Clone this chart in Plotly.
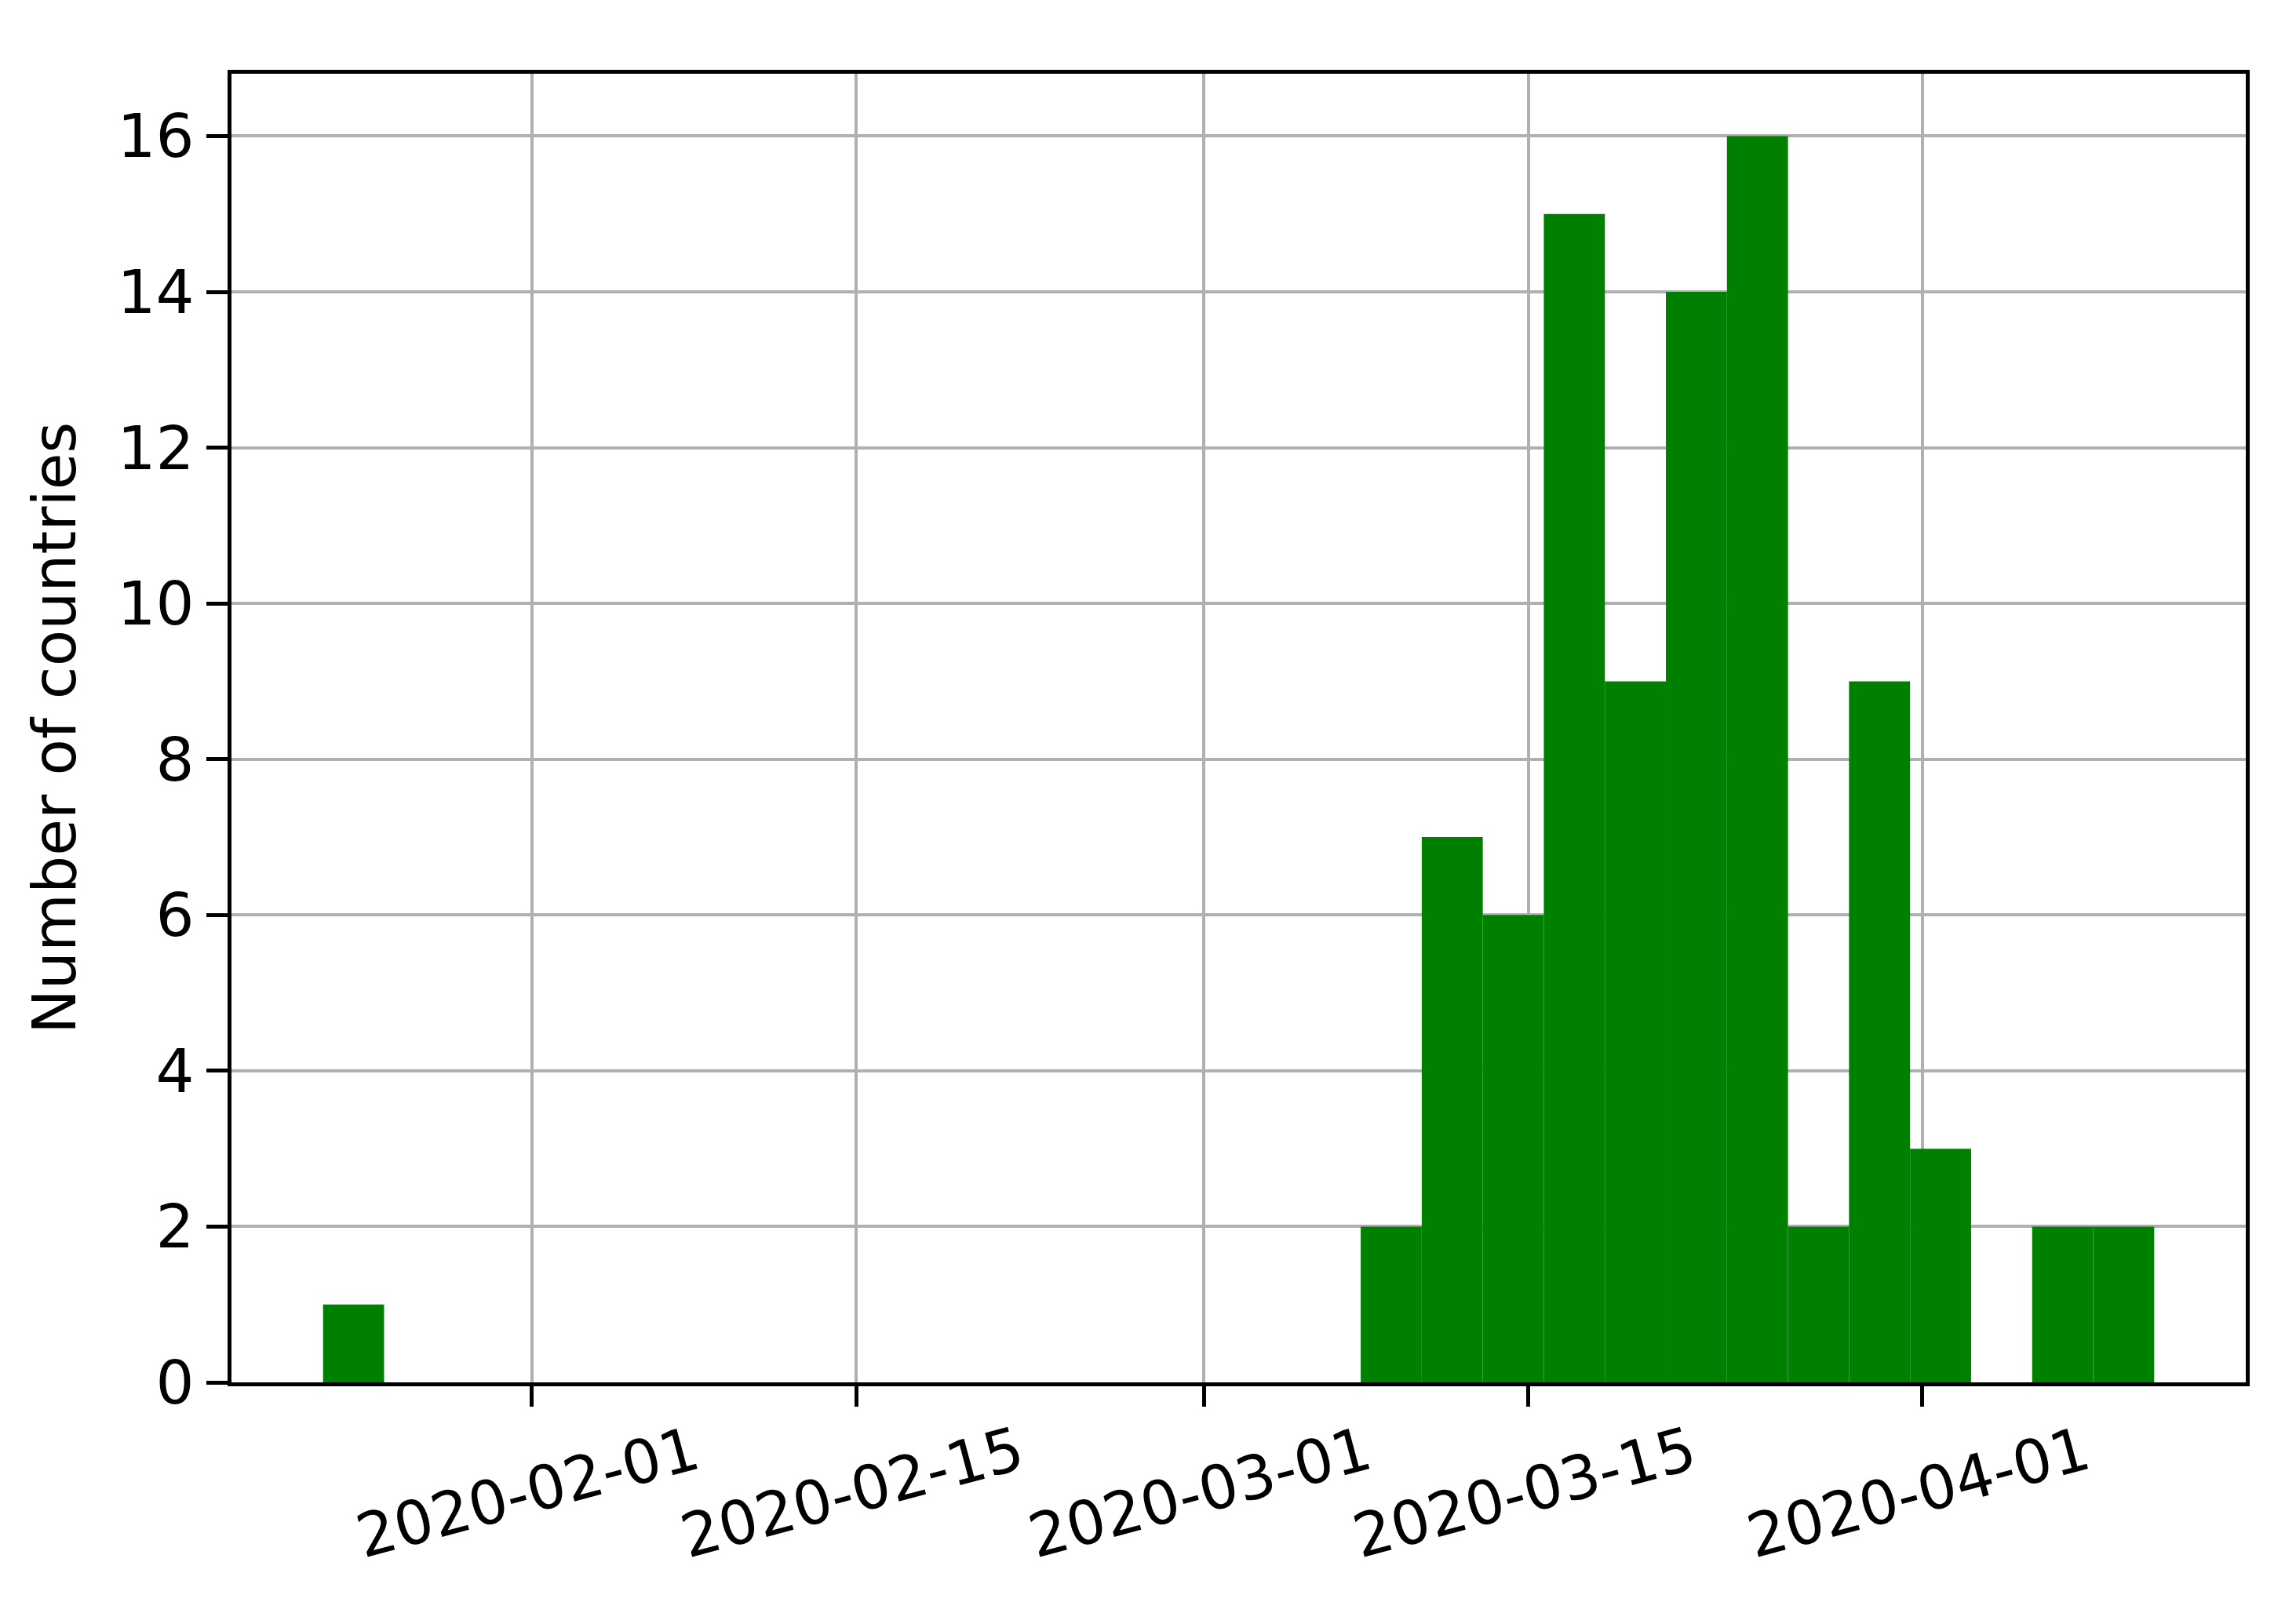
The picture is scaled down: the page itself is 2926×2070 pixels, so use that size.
import pandas as pd
import plotly.graph_objects as go

# histogram: 30 equal bins between the earliest and latest date
first_date = "2020-01-23"
last_date = "2020-04-11"
counts = [1, 0, 0, 0, 0, 0, 0, 0, 0, 0,
          0, 0, 0, 0, 0, 0, 0, 2, 7, 6,
          15, 9, 14, 16, 2, 9, 3, 0, 2, 2]
tick_dates = ["2020-02-01", "2020-02-15", "2020-03-01", "2020-03-15", "2020-04-01"]
y_ticks = [0, 2, 4, 6, 8, 10, 12, 14, 16]

start = pd.Timestamp(first_date)
end = pd.Timestamp(last_date)
edges = pd.date_range(start, end, periods=len(counts) + 1)
step = edges[1] - edges[0]
centers = edges[:-1] + step / 2
span = end - start

fig = go.Figure(
    go.Bar(
        x=centers,
        y=counts,
        width=step.total_seconds() * 1000,
        marker_color="green",
        marker_line_width=0,
    )
)

font = dict(family="DejaVu Sans", size=77, color="black")

fig.update_layout(
    width=2926,
    height=2070,
    # page body adds 8px, so shift by that
    margin=dict(l=287, r=72, t=86, b=316),
    plot_bgcolor="white",
    paper_bgcolor="white",
    showlegend=False,
    font=font,
)

fig.update_xaxes(
    type="date",
    range=[start - span * 0.05, end + span * 0.05],
    tickvals=tick_dates,
    ticktext=tick_dates,
    tickangle=-15,
    ticklabelshift=208,
    ticklabelstandoff=-14,
    ticks="outside",
    ticklen=26,
    tickwidth=5,
    tickcolor="black",
    showline=True,
    linecolor="black",
    linewidth=5,
    mirror=True,
    showgrid=True,
    gridcolor="#b0b0b0",
    gridwidth=4,
    zeroline=False,
    layer="above traces",
)

fig.update_yaxes(
    range=[0, 16.8],
    tickvals=y_ticks,
    ticks="outside",
    ticklen=27,
    tickwidth=5,
    tickcolor="black",
    showline=True,
    linecolor="black",
    linewidth=5,
    mirror=True,
    showgrid=True,
    gridcolor="#b0b0b0",
    gridwidth=4,
    zeroline=False,
    layer="above traces",
    title=dict(text="Number of countries", standoff=30,
               font=dict(family="DejaVu Sans", size=76, color="black")),
)

fig.write_html("out.html")
